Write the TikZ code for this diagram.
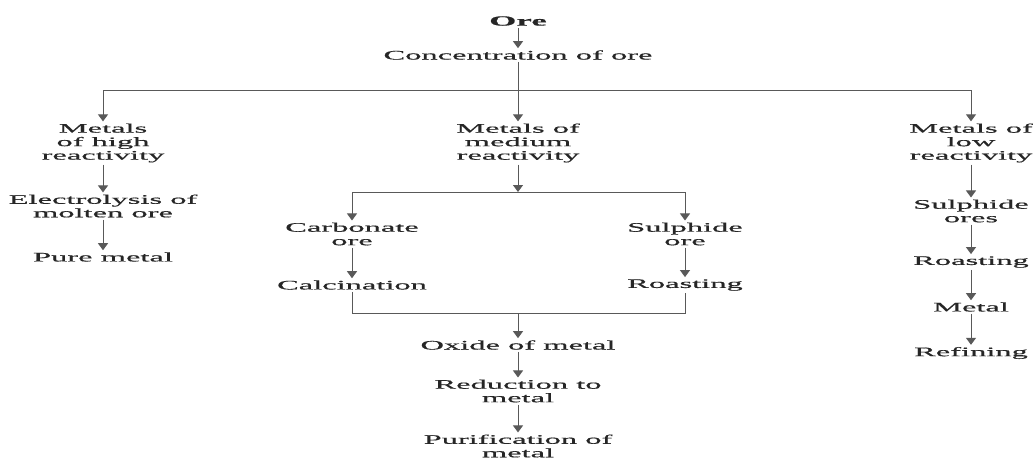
\documentclass[tikz,border=0pt]{standalone}
\usepackage{fontspec}
\setmainfont{Liberation Serif}[FakeStretch=2.5,FakeBold=0.6]
\usetikzlibrary{arrows.meta,positioning,calc}

\begin{document}
\begin{tikzpicture}[
  x=1pt,y=-1pt,
  font=\fontsize{13}{13.5}\selectfont,
  lbl/.style={inner sep=2pt,align=center,text=black!85},
  ln/.style={draw=black!65,line width=1pt},
  arr/.style={ln,-{Triangle[width=10pt,length=7pt]}}
]
\useasboundingbox (0,0) rectangle (1036,459);

% top of the chart
\node[lbl,font=\fontsize{14}{15}\selectfont\bfseries] (ore) at (518,21) {Ore};
\node[lbl] (conc) at (518,55) {Concentration of ore};

% three groups of metals
\node[lbl] (high) at (103,143) {Metals\\of high\\reactivity};
\node[lbl] (med) at (518,143) {Metals of\\medium\\reactivity};
\node[lbl] (low) at (971,143) {Metals of\\low\\reactivity};

% high reactivity
\node[lbl] (elec) at (103,206) {Electrolysis of\\molten ore};
\node[lbl] (pure) at (103,257) {Pure metal};

% medium reactivity
\node[lbl] (carb) at (352,234) {Carbonate\\ore};
\node[lbl] (sulph) at (685,234) {Sulphide\\ore};
\node[lbl] (calc) at (352,285) {Calcination};
\node[lbl] (roast) at (685,285) {Roasting};
\node[lbl] (oxide) at (518,345) {Oxide of metal};
\node[lbl] (redu) at (518,391) {Reduction to\\metal};
\node[lbl] (puri) at (518,446) {Purification of\\metal};

% low reactivity
\node[lbl] (lsulph) at (971,211) {Sulphide\\ores};
\node[lbl] (lroast) at (971,262) {Roasting};
\node[lbl] (lmetal) at (971,307) {Metal};
\node[lbl] (refin) at (971,353) {Refining};

% junctions
\coordinate (tl) at (103,90);
\coordinate (tr) at (971,90);
\coordinate (mj) at (518,192);
\coordinate (ml) at (352,192);
\coordinate (mr) at (685,192);
\coordinate (bj) at (518,313);
\coordinate (bl) at (352,313);
\coordinate (br) at (685,313);

\draw[arr] (ore) -- (conc);
\draw[arr] (conc) -- (med);
\draw[ln] (tl) -- (tr);
\draw[arr] (tl) -- (high);
\draw[arr] (tr) -- (low);

\draw[arr] (high) -- (elec);
\draw[arr] (elec) -- (pure);

\draw[arr] (med) -- (mj);
\draw[ln] (ml) -- (mr);
\draw[arr] (ml) -- (carb);
\draw[arr] (mr) -- (sulph);
\draw[arr] (carb) -- (calc);
\draw[arr] (sulph) -- (roast);
\draw[ln] (calc) -- (bl) -- (br) -- (roast);
\draw[arr] (bj) -- (oxide);
\draw[arr] (oxide) -- (redu);
\draw[arr] (redu) -- (puri);

\draw[arr] (low) -- (lsulph);
\draw[arr] (lsulph) -- (lroast);
\draw[arr] (lroast) -- (lmetal);
\draw[arr] (lmetal) -- (refin);
\end{tikzpicture}
\end{document}
